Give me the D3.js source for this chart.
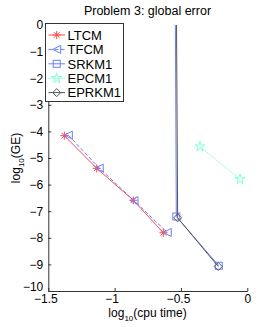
<!DOCTYPE html>
<html>
<head>
<meta charset="utf-8">
<script src="https://cdn.jsdelivr.net/npm/d3@7"></script>
<style>
  body { margin: 0; background: #fff; }
  svg { font-family: 'Liberation Sans', Arial, sans-serif; }
</style>
</head>
<body>
<svg width="273" height="327"></svg>
<script>
// values (log10 cpu time, log10 global error)
const methods = ['LTCM', 'TFCM', 'SRKM1', 'EPCM1', 'EPRKM1'];
const ltcmX = [-1.379, -1.135, -0.859, -0.633];
const ltcmY = [-4.16, -5.39, -6.59, -7.81];
const tfcmX = [-1.349, -1.116, -0.854, -0.603];
const tfcmY = [-4.14, -5.38, -6.60, -7.80];
const srkmX = [-0.545, -0.535, -0.215];
const srkmY = [3, -7.2, -9.05];
const epcmX = [-0.357, -0.055];
const epcmY = [-4.57, -5.80];
const eprkmX = [-0.537, -0.525, -0.219];
const eprkmY = [3, -7.25, -9.08];
const xTicks = [-1.5, -1, -0.5, 0];
const yTicks = d3.range(-10, 1, 1);

const styles = {
  LTCM: { color: '#ff4a4a', marker: 'asterisk', dash: null },
  TFCM: { color: '#6b7fff', marker: 'triangle', dash: '4,2' },
  SRKM1: { color: '#6b7fff', marker: 'square', dash: null },
  EPCM1: { color: '#7fffd8', marker: 'star', dash: '2,1' },
  EPRKM1: { color: '#555555', marker: 'diamond', dash: null },
};

const series = [
  { name: 'LTCM', x: ltcmX, y: ltcmY },
  { name: 'TFCM', x: tfcmX, y: tfcmY },
  { name: 'SRKM1', x: srkmX, y: srkmY },
  { name: 'EPCM1', x: epcmX, y: epcmY },
  { name: 'EPRKM1', x: eprkmX, y: eprkmY },
];

const svg = d3.select('svg');
const x = d3.scaleLinear().domain([-1.5, 0]).range([48.3, 247.3]);
const y = d3.scaleLinear().domain([-10, 0]).range([291, 25]);

svg.append('defs').append('clipPath').attr('id', 'plot')
  .append('rect')
  .attr('x', x(-1.5)).attr('y', y(0))
  .attr('width', x(0) - x(-1.5)).attr('height', y(-10) - y(0));

// marker shapes, size ~ 8px
function marker(g, kind, cx, cy, color) {
  const s = 4;
  if (kind === 'asterisk') {
    const d = `M${cx - s},${cy}L${cx + s},${cy}M${cx},${cy - s}L${cx},${cy + s}` +
      `M${cx - s * 0.7},${cy - s * 0.7}L${cx + s * 0.7},${cy + s * 0.7}` +
      `M${cx - s * 0.7},${cy + s * 0.7}L${cx + s * 0.7},${cy - s * 0.7}`;
    g.append('path').attr('d', d).attr('stroke', color).attr('fill', 'none');
  } else if (kind === 'triangle') {
    g.append('path').attr('d', `M${cx - s},${cy}L${cx + s},${cy - s}L${cx + s},${cy + s}Z`)
      .attr('stroke', color).attr('fill', 'none');
  } else if (kind === 'square') {
    g.append('rect').attr('x', cx - s + 0.5).attr('y', cy - s + 0.5)
      .attr('width', 2 * s - 1).attr('height', 2 * s - 1)
      .attr('stroke', color).attr('fill', 'none');
  } else if (kind === 'star') {
    g.append('path').attr('d', d3.symbol(d3.symbolStar, 32)())
      .attr('transform', `translate(${cx},${cy})`)
      .attr('stroke', color).attr('fill', 'none');
  } else if (kind === 'diamond') {
    g.append('path').attr('d', `M${cx - s},${cy}L${cx},${cy - s}L${cx + s},${cy}L${cx},${cy + s}Z`)
      .attr('stroke', color).attr('fill', 'none');
  }
}

const plot = svg.append('g').attr('clip-path', 'url(#plot)');
for (const s of series) {
  const st = styles[s.name];
  const pts = s.x.map((v, i) => [x(v), y(s.y[i])]);
  plot.append('path')
    .attr('d', d3.line()(pts))
    .attr('stroke', st.color)
    .attr('stroke-width', 1)
    .attr('stroke-dasharray', st.dash)
    .attr('fill', 'none');
  for (const p of pts) marker(plot, st.marker, p[0], p[1], st.color);
}

// axes, MATLAB style: ticks inward, no box
const axisColor = '#333';
const fmt = d => d === 0 ? '0' : '\u2212' + Math.abs(d);
const yAxis = svg.append('g').attr('transform', `translate(${x(-1.5)},0)`)
  .call(d3.axisLeft(y).tickValues(yTicks).tickSizeInner(-3).tickSizeOuter(0).tickPadding(5)
    .tickFormat(fmt));
const xAxis = svg.append('g').attr('transform', `translate(0,${y(-10)})`)
  .call(d3.axisBottom(x).tickValues(xTicks).tickSizeInner(-3).tickSizeOuter(0).tickPadding(3)
    .tickFormat(fmt));
for (const a of [xAxis, yAxis]) {
  a.select('.domain').attr('stroke', axisColor);
  a.selectAll('.tick line').attr('stroke', axisColor);
  a.selectAll('.tick text').attr('fill', '#000').style('font-size', '12px')
    .style('font-family', "'Liberation Sans', Arial, sans-serif");
}
xAxis.selectAll('.tick text').attr('dx', d => d === 0 ? 0 : -3);
yAxis.selectAll('.tick text').filter(d => d === -10).attr('dy', '-0.05em');

svg.append('text').attr('x', 147.5).attr('y', 15).attr('text-anchor', 'middle')
  .style('font-size', '12.5px').text('Problem 3: global error');

const xl = svg.append('text').attr('x', 147.5).attr('y', 317).attr('text-anchor', 'middle')
  .style('font-size', '12px');
xl.append('tspan').text('log');
xl.append('tspan').attr('dy', 4).style('font-size', '8px').text('10');
xl.append('tspan').attr('dy', -4).text('(cpu time)');

const yl = svg.append('text').attr('transform', 'translate(20,158) rotate(-90)')
  .attr('text-anchor', 'middle').style('font-size', '12px');
yl.append('tspan').text('log');
yl.append('tspan').attr('dy', 4).style('font-size', '8px').text('10');
yl.append('tspan').attr('dy', -4).text('(GE)');

// legend
const legend = svg.append('g');
legend.append('rect').attr('x', 45.5).attr('y', 23.5).attr('width', 78).attr('height', 78)
  .attr('fill', '#fff').attr('stroke', axisColor);
methods.forEach((m, i) => {
  const st = styles[m];
  const ly = 35 + i * 14.4;
  legend.append('line').attr('x1', 48.5).attr('x2', 65).attr('y1', ly).attr('y2', ly)
    .attr('stroke', st.color).attr('stroke-dasharray', st.dash);
  marker(legend, st.marker, 56.7, ly, st.color);
  legend.append('text').attr('x', 67.5).attr('y', ly + 4.7).style('font-size', '13px').text(m);
});
</script>
</body>
</html>
